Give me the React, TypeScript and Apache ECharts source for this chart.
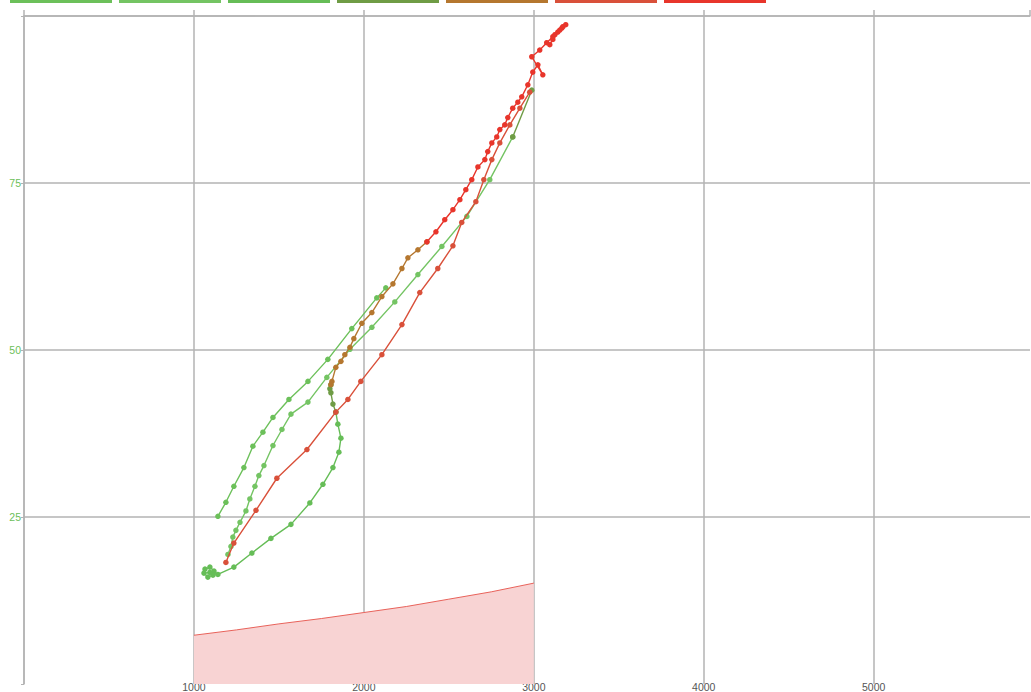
import React, { useEffect, useRef } from "react";
import * as echarts from "echarts";

const palette = ["#6cc05a", "#74c463", "#66bd57", "#6f9c45", "#b5772f", "#d9503a", "#e8352b"];

const xTicks = [0, 1000, 2000, 3000, 4000, 5000, 5920];
const yTicks = [0, 25, 50, 75, 100];

const zoneX = [1000, 1250, 1500, 1750, 2000, 2250, 2500, 2750, 3000];
const zoneY = [7.3, 8.1, 9.0, 9.8, 10.7, 11.6, 12.7, 13.8, 15.1];

const loopGreen = [
  [1065, 17.2], [1094, 17.5], [1118, 16.9], [1112, 16.3], [1082, 16.0], [1059, 16.6], [1094, 16.7],
  [1141, 16.4], [1235, 17.5], [1341, 19.6], [1453, 21.8], [1571, 23.9], [1682, 27.1], [1759, 29.9],
  [1818, 32.4], [1853, 34.7], [1865, 36.8], [1847, 38.9], [1835, 40.7],
];

const outerGreen = [
  [1141, 25.1], [1188, 27.2], [1235, 29.6], [1294, 32.4], [1347, 35.6], [1406, 37.7], [1465, 39.9],
  [1559, 42.6], [1671, 45.3], [1788, 48.6], [1929, 53.2], [2076, 57.8], [2129, 59.3],
];

const innerGreen = [
  [1200, 19.4], [1218, 20.6], [1229, 22.0], [1247, 23.0], [1271, 24.2], [1306, 25.9], [1329, 27.7],
  [1359, 29.6], [1382, 31.2], [1412, 32.7], [1465, 35.7], [1518, 38.1], [1571, 40.4], [1671, 42.2],
  [1782, 45.9], [1918, 50.1], [2047, 53.4], [2182, 57.2], [2318, 61.3], [2459, 65.5], [2606, 70.0],
  [2741, 75.5], [2876, 81.9],
];

const oliveLink = [[1835, 40.7], [1818, 41.9], [1806, 43.6], [1800, 44.2], [1806, 44.8]];
const oliveTop = [[2876, 81.9], [2988, 88.9]];

const brownPath = [
  [1806, 44.8], [1812, 45.3], [1835, 47.4], [1865, 48.3], [1888, 49.3], [1918, 50.4], [1941, 51.7],
  [1988, 54.0], [2047, 55.6], [2106, 58.0], [2171, 59.9], [2224, 62.2], [2259, 63.8], [2318, 65.0],
  [2371, 66.2],
];

const rightRed = [
  [1188, 18.2], [1235, 21.1], [1365, 26.0], [1488, 30.8], [1665, 35.1], [1835, 40.7], [1906, 42.6],
  [1982, 45.3], [2106, 49.3], [2224, 53.8], [2329, 58.6], [2435, 62.2], [2524, 65.6], [2576, 69.1],
  [2659, 72.2], [2706, 75.5], [2753, 78.5], [2800, 81.0], [2859, 83.7], [2918, 86.2], [2976, 88.6],
];

const upperRed = [
  [2371, 66.2], [2424, 67.7], [2476, 69.5], [2524, 71.0], [2565, 72.5], [2600, 74.0], [2635, 75.5],
  [2671, 77.4], [2712, 78.5], [2729, 79.7], [2753, 81.0], [2782, 81.9], [2800, 83.0], [2829, 83.7],
  [2847, 84.8], [2876, 86.2], [2906, 87.1], [2929, 87.9], [2965, 89.7], [2994, 91.6], [3024, 92.7],
  [3053, 91.2], [2988, 93.9], [3035, 94.9], [3076, 96.0], [3112, 96.9], [3141, 97.6], [3171, 98.4],
  [3188, 98.7], [3165, 98.2], [3124, 97.2], [3094, 95.7], [3112, 96.5], [3153, 97.9],
];

const paths = [
  { data: loopGreen, c: 2 },
  { data: outerGreen, c: 0 },
  { data: innerGreen, c: 1 },
  { data: oliveLink, c: 3 },
  { data: oliveTop, c: 3 },
  { data: brownPath, c: 4 },
  { data: rightRed, c: 5 },
  { data: upperRed, c: 6 },
];

export default function App() {
  const ref = useRef<HTMLDivElement>(null);
  useEffect(() => {
    const chart = echarts.init(ref.current!, null, { renderer: "svg" });
    const lineSeries = paths.map((p, i) => ({
      type: "line",
      data: p.data,
      showSymbol: true,
      symbol: "circle",
      symbolSize: 5.5,
      z: 3 + i,
      lineStyle: { color: palette[p.c], width: 1.4 },
      itemStyle: { color: palette[p.c] },
    }));
    chart.setOption({
      animation: false,
      backgroundColor: "#ffffff",
      grid: { left: 24, top: 16, width: 1006, height: 669 },
      xAxis: [
        {
          type: "value",
          min: xTicks[0],
          max: xTicks[xTicks.length - 1],
          interval: 1000,
          position: "bottom",
          axisLine: { show: false },
          axisTick: { show: false },
          splitLine: { show: true, showMaxLine: false, lineStyle: { color: "#b3b3b3", width: 1.5 } },
          axisLabel: {
            margin: -3,
            fontSize: 10.5,
            color: "#555555",
            fontFamily: "'Liberation Sans Narrow', 'Liberation Sans', sans-serif",
            showMaxLabel: false,
            formatter: (v: number) => (v === 0 || v > 5000 ? "" : String(v)),
          },
        },
        {
          type: "value",
          min: xTicks[0],
          max: xTicks[xTicks.length - 1],
          interval: 1000,
          position: "top",
          axisLine: { show: true, lineStyle: { color: "#b3b3b3", width: 1.5 } },
          axisTick: { show: true, length: 6, lineStyle: { color: "#b3b3b3", width: 1.5 } },
          axisLabel: { show: false },
          splitLine: { show: false },
        },
      ],
      yAxis: {
        type: "value",
        min: yTicks[0],
        max: yTicks[yTicks.length - 1],
        interval: 25,
        axisLine: { show: true, lineStyle: { color: "#b3b3b3", width: 1.5 } },
        axisTick: { show: true, length: 3, lineStyle: { color: "#b3b3b3" } },
        splitLine: { show: true, showMinLine: false, lineStyle: { color: "#b3b3b3", width: 1.5 } },
        axisLabel: {
          margin: 3,
          fontSize: 10.5,
          color: "#6cc05a",
          fontFamily: "'Liberation Sans Narrow', 'Liberation Sans', sans-serif",
          formatter: (v: number) => (v === 0 || v === 100 ? "" : String(v)),
        },
      },
      series: [
        {
          type: "line",
          data: zoneX.map((x, i) => [x, zoneY[i]]),
          showSymbol: false,
          z: 1,
          lineStyle: { color: "#e8625a", width: 1 },
          areaStyle: { color: "#f8d3d3", opacity: 1 },
        },
        ...lineSeries,
      ],
      graphic: palette.map((c, i) => ({
        type: "rect",
        shape: { x: 10 + i * 109, y: 0, width: 102, height: 3 },
        style: { fill: c },
      })),
    });
    return () => chart.dispose();
  }, []);
  return (
    <div
      ref={ref}
      style={{ position: "fixed", left: 0, top: 0, width: 1031, height: 692, background: "#fff" }}
    />
  );
}
